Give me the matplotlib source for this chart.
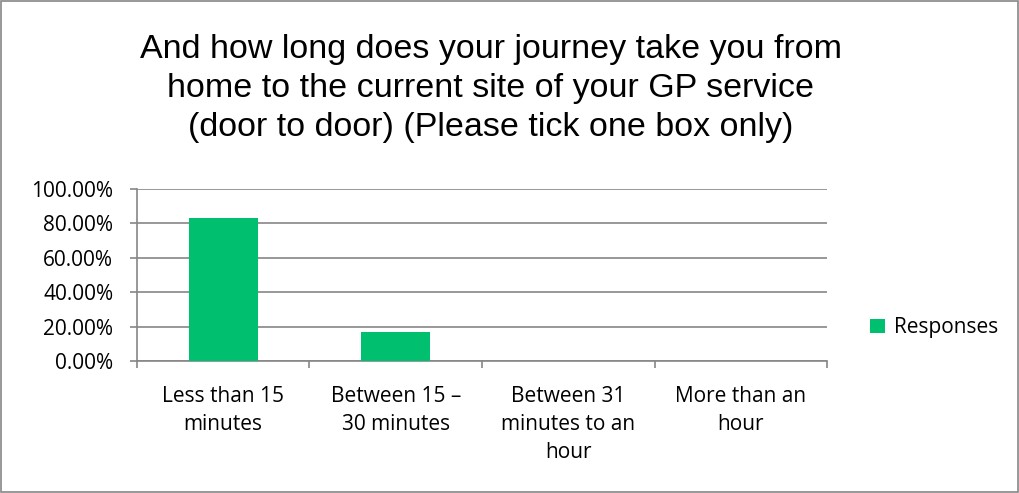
import matplotlib.pyplot as plt
import numpy as np
from matplotlib.patches import Rectangle

# Dados do gráfico
categories = ['Less than 15\nminutes', 'Between 15 \u2013\n30 minutes',
              'Between 31\nminutes to an\nhour', 'More than an\nhour']
responses = [83.33, 16.67, 0.0, 0.0]
y_ticks = [0, 20, 40, 60, 80, 100]
title = ('And how long does your journey take you from\n'
         'home to the current site of your GP service\n'
         '(door to door) (Please tick one box only)')

green = '#00C070'
grey = '#868686'
label_font = ['Open Sans', 'DejaVu Sans']
title_font = ['Liberation Sans', 'DejaVu Sans']
fs = 15

fig = plt.figure(figsize=(10.2, 4.93), dpi=100)
ax = fig.add_axes([0.1343, 0.2677, 0.6765, 0.3489])

x = np.arange(len(categories))
ax.bar(x, responses, width=0.4, color=green, zorder=3, label='Responses')

ax.set_xlim(-0.5, len(categories) - 0.5)
ax.set_ylim(0, 100)
ax.set_yticks(y_ticks)
ax.set_yticklabels([f'{v:.2f}%' for v in y_ticks], fontsize=fs, family=label_font)
ax.yaxis.grid(True, color=grey, linewidth=1.2, zorder=0)

# Marcas do eixo x nas fronteiras das categorias
ax.set_xticks(np.arange(len(categories) + 1) - 0.5)
ax.set_xticklabels([])
ax.set_xticks(x, minor=True)
ax.set_xticklabels(categories, minor=True, fontsize=fs, family=label_font,
                   linespacing=1.45, va='top')
ax.tick_params(axis='x', which='minor', length=0, pad=18)
ax.tick_params(axis='x', which='major', length=5, color=grey, width=1.2)
ax.tick_params(axis='y', length=5, color=grey, width=1.2, pad=12)

for side in ['top', 'right']:
    ax.spines[side].set_visible(False)
ax.spines['left'].set_color(grey)
ax.spines['bottom'].set_color(grey)
ax.spines['left'].set_linewidth(1.2)
ax.spines['bottom'].set_linewidth(1.2)

fig.text(0.481, 0.932, title, ha='center', va='top', fontsize=24.5,
         family=title_font, linespacing=1.35)

fig.legend(loc='center left', bbox_to_anchor=(0.835, 0.335), frameon=False,
           prop={'family': label_font, 'size': fs}, handlelength=0.7,
           handleheight=0.7, handletextpad=0.45)

# Moldura externa
fig.patches.append(Rectangle((0.001, 0.002), 0.997, 0.996, transform=fig.transFigure,
                             fill=False, edgecolor=grey, linewidth=1.2))

fig.savefig('out.png', dpi=100)
